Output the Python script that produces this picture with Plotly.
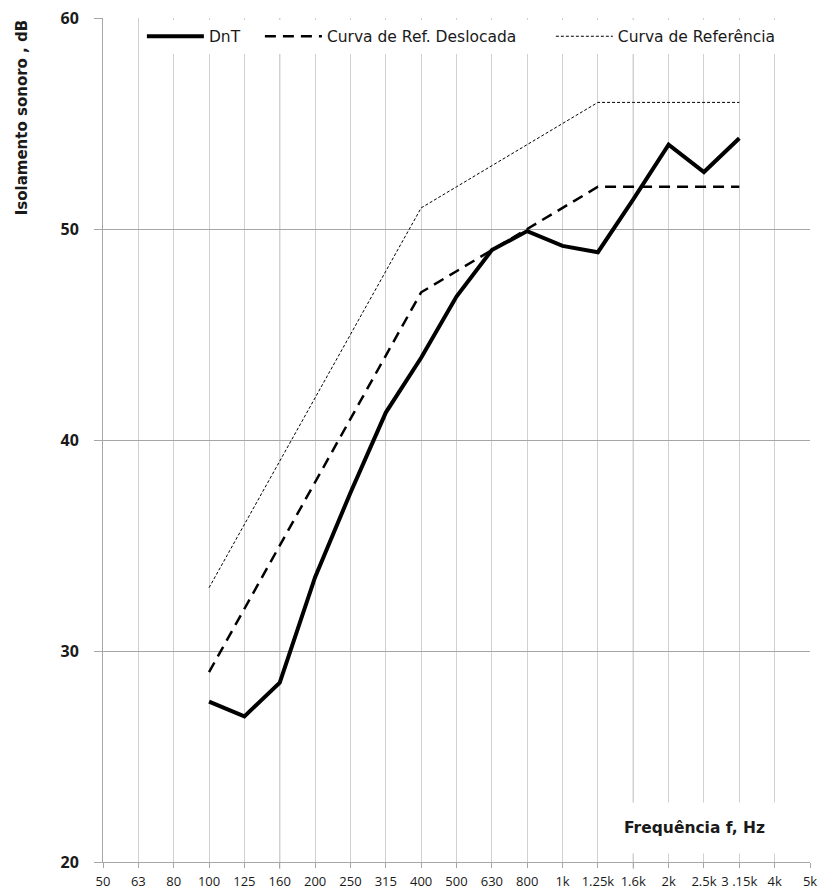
import plotly.graph_objects as go

# One-third-octave band centre frequencies shown on the axis
freq_labels = ["50", "63", "80", "100", "125", "160", "200", "250", "315", "400",
               "500", "630", "800", "1k", "1.25k", "1.6k", "2k", "2.5k", "3 .15k", "4k", "5k"]

# Bands that carry measured / reference values (100 Hz .. 3.15 kHz)
band_labels = ["100", "125", "160", "200", "250", "315", "400", "500", "630", "800",
               "1k", "1.25k", "1.6k", "2k", "2.5k", "3 .15k"]

dnt = [27.6, 26.9, 28.5, 33.5, 37.5, 41.3, 43.9, 46.8, 49.0, 49.9,
       49.2, 48.9, 51.4, 54.0, 52.7, 54.3]
ref_shifted = [29, 32, 35, 38, 41, 44, 47, 48, 49, 50, 51, 52, 52, 52, 52, 52]
ref_curve = [33, 36, 39, 42, 45, 48, 51, 52, 53, 54, 55, 56, 56, 56, 56, 56]

y_ticks = [20, 30, 40, 50, 60]

xpos = [freq_labels.index(b) for b in band_labels]

font_family = "'Open Sans', sans-serif"
wide_family = "'DejaVu Sans', sans-serif"
ink = "#1a1a1a"
nb = "\u00a0"

fig = go.Figure()

fig.add_trace(go.Scatter(
    x=xpos, y=dnt, mode="lines", name="DnT" + nb * 3,
    line=dict(color="black", width=4),
))
fig.add_trace(go.Scatter(
    x=xpos, y=ref_shifted, mode="lines", name="Curva de Ref. Deslocada" + nb * 6,
    line=dict(color="black", width=2.5, dash="11px,7px"),
))
fig.add_trace(go.Scatter(
    x=xpos, y=ref_curve, mode="lines", name="Curva de Referência",
    line=dict(color="black", width=1, dash="3px,2px"),
))

# Slightly darker verticals at 160 Hz and 1.6 kHz
for lbl in ["160", "1.6k"]:
    i = freq_labels.index(lbl)
    fig.add_shape(type="line", xref="x", yref="paper", x0=i, x1=i, y0=-0.008, y1=1,
                  line=dict(color="#a6a6a6", width=1), layer="below")

fig.add_annotation(
    text="<b>Frequência f, Hz</b>", xref="x", yref="y",
    x=17.06, y=21.6, showarrow=False,
    font=dict(family=wide_family, size=15.5, color=ink),
    bgcolor="white", borderpad=15, width=165, height=20, align="left",
    xanchor="center", yanchor="middle",
)
fig.add_annotation(
    text="<b>Isolamento sonoro , dB</b>", xref="paper", yref="paper",
    x=-0.115, y=0.882, textangle=-90, showarrow=False,
    font=dict(family=wide_family, size=15, color=ink),
    xanchor="center", yanchor="middle",
)

fig.update_layout(
    width=821, height=889,
    margin=dict(l=103, r=11, t=18, b=27, autoexpand=False),
    paper_bgcolor="white", plot_bgcolor="white",
    font=dict(family=font_family, color=ink),
    showlegend=True,
    legend=dict(
        orientation="h", x=0.055, xanchor="left", y=0.998, yanchor="top",
        bgcolor="white", font=dict(family=wide_family, size=15.5, color=ink),
        itemwidth=57, tracegroupgap=0,
    ),
    xaxis=dict(
        range=[0, len(freq_labels) - 1], automargin=False,
        tickmode="array", tickvals=list(range(len(freq_labels))), ticktext=freq_labels,
        showgrid=True, gridcolor="#d0d0d0", gridwidth=1,
        showline=True, linecolor="#a6a6a6", linewidth=1,
        ticks="outside", ticklen=5, tickcolor="#a6a6a6",
        tickfont=dict(family=font_family, size=13, color=ink),
        ticklabelstandoff=2,
        zeroline=False,
    ),
    yaxis=dict(
        range=[20, 60], tickmode="array", tickvals=y_ticks, automargin=False,
        showgrid=True, gridcolor="#a6a6a6", gridwidth=1,
        showline=True, linecolor="#a6a6a6", linewidth=1,
        ticks="outside", ticklen=8, tickcolor="#a6a6a6",
        tickfont=dict(family=font_family, size=16, color=ink, weight="bold"),
        ticklabelstandoff=12,
        zeroline=False,
    ),
)

fig.write_html("out.html")
